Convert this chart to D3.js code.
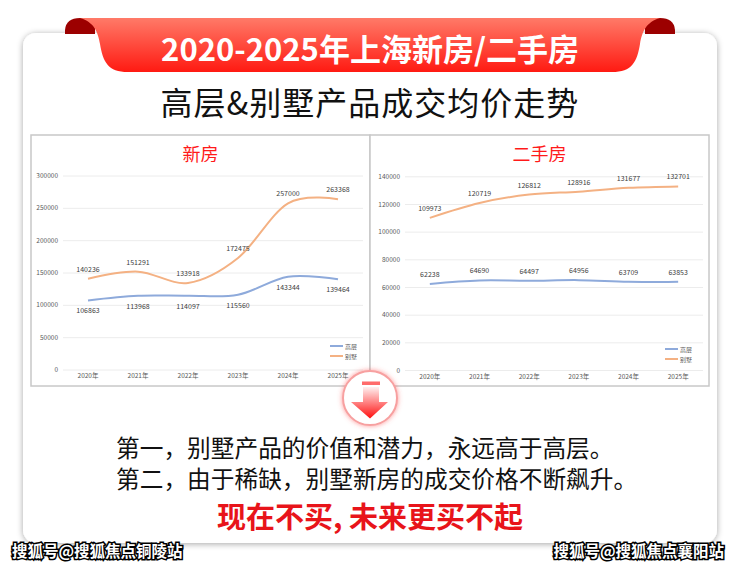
<!DOCTYPE html>
<html>
<head>
<meta charset="utf-8">
<script src="https://cdn.jsdelivr.net/npm/d3@7"></script>
<style>
  body { margin: 0; background: #fff; }
  text { font-family: "Noto Sans CJK SC", "Noto Sans", sans-serif; }
</style>
</head>
<body>
<div id="chart"></div>
<script>
const years = ['2020年', '2021年', '2022年', '2023年', '2024年', '2025年'];
const seriesNames = ['高层', '别墅'];

// 新房
const newHigh = [106863, 113968, 114097, 115560, 143344, 139464];
const newVilla = [140236, 151291, 133918, 172475, 257000, 263368];
const newTicks = [0, 50000, 100000, 150000, 200000, 250000, 300000];

// 二手房
const secHigh = [62238, 64690, 64497, 64956, 63709, 63853];
const secVilla = [109973, 120719, 126812, 128916, 131677, 132701];
const secTicks = [0, 20000, 40000, 60000, 80000, 100000, 120000, 140000];

const headline = '2020-2025年上海新房/二手房';
const subtitle = '高层&别墅产品成交均价走势';
const notes = ['第一，别墅产品的价值和潜力，永远高于高层。', '第二，由于稀缺，别墅新房的成交价格不断飙升。'];
const slogan = '现在不买, 未来更买不起';
const marks = ['搜狐号@搜狐焦点铜陵站', '搜狐号@搜狐焦点襄阳站'];

const W = 740, H = 565;
const svg = d3.select('#chart').append('svg')
  .attr('width', W)
  .attr('height', H);

const defs = svg.append('defs');

const shadow = defs.append('filter').attr('id', 'shadow')
  .attr('x', '-10%').attr('y', '-10%').attr('width', '120%').attr('height', '120%');
shadow.append('feDropShadow')
  .attr('dx', 0).attr('dy', 1).attr('stdDeviation', 3)
  .attr('flood-color', '#000').attr('flood-opacity', 0.35);

const ribbonGrad = defs.append('linearGradient').attr('id', 'ribbon')
  .attr('x1', 0).attr('y1', 0).attr('x2', 0).attr('y2', 1);
ribbonGrad.append('stop').attr('offset', '0%').attr('stop-color', '#ff7a68');
ribbonGrad.append('stop').attr('offset', '100%').attr('stop-color', '#ff1a12');

const arrowGrad = defs.append('linearGradient').attr('id', 'arrow')
  .attr('x1', 0).attr('y1', 0).attr('x2', 0).attr('y2', 1);
arrowGrad.append('stop').attr('offset', '0%').attr('stop-color', '#fff0f0');
arrowGrad.append('stop').attr('offset', '100%').attr('stop-color', '#ff1010');

const glow = defs.append('filter').attr('id', 'glow')
  .attr('x', '-30%').attr('y', '-30%').attr('width', '160%').attr('height', '160%');
glow.append('feDropShadow')
  .attr('dx', 0).attr('dy', 0).attr('stdDeviation', 2.5)
  .attr('flood-color', '#ff5050').attr('flood-opacity', 0.6);

// card
svg.append('rect')
  .attr('x', 23).attr('y', 33)
  .attr('width', 694).attr('height', 510)
  .attr('rx', 13)
  .attr('fill', '#fff')
  .attr('filter', 'url(#shadow)');

// ribbon folds
svg.append('path')
  .attr('d', 'M65,34 L65,30 Q66,18 80,18 L95,18 L95,34 Z')
  .attr('fill', '#9c0000');
svg.append('path')
  .attr('d', 'M675,34 L675,30 Q674,18 660,18 L645,18 L645,34 Z')
  .attr('fill', '#9c0000');

// ribbon body
svg.append('path')
  .attr('d', 'M80,18 L660,18 C646,22 642,32 640,44 C637,62 632,72 612,72 L128,72 C108,72 103,62 100,44 C98,32 94,22 80,18 Z')
  .attr('fill', 'url(#ribbon)');

svg.append('text')
  .attr('x', 370).attr('y', 47)
  .attr('text-anchor', 'middle')
  .attr('dominant-baseline', 'central')
  .attr('fill', '#fff')
  .attr('font-size', 31)
  .attr('font-weight', 'bold')
  .text(headline);

svg.append('text')
  .attr('x', 370).attr('y', 101)
  .attr('text-anchor', 'middle')
  .attr('dominant-baseline', 'central')
  .attr('fill', '#111')
  .attr('font-size', 32)
  .attr('letter-spacing', 1)
  .text(subtitle);

// chart panels
function panel(opts) {
  const g = svg.append('g');

  g.append('rect')
    .attr('x', opts.left).attr('y', 135)
    .attr('width', opts.right - opts.left).attr('height', 251)
    .attr('fill', '#fff')
    .attr('stroke', '#c8c8c8')
    .attr('stroke-width', 1.5);

  const x = d3.scaleBand()
    .domain(years)
    .range(opts.xRange);

  const y = d3.scaleLinear()
    .domain([0, opts.max])
    .range(opts.yRange);

  g.append('text')
    .attr('x', (opts.left + opts.right) / 2)
    .attr('y', 153)
    .attr('text-anchor', 'middle')
    .attr('dominant-baseline', 'central')
    .attr('fill', '#ff1a1a')
    .attr('font-size', 18)
    .text(opts.title);

  const yAxis = g.append('g')
    .attr('transform', `translate(${opts.xRange[0]},0)`)
    .call(d3.axisLeft(y).tickValues(opts.ticks)
      .tickSize(-(opts.xRange[1] - opts.xRange[0]))
      .tickPadding(5)
      .tickFormat(d => d));
  yAxis.select('.domain').remove();
  yAxis.selectAll('line').attr('stroke', '#ececec');
  yAxis.selectAll('text')
    .attr('fill', '#595959')
    .attr('font-size', 6.5);

  const xAxis = g.append('g')
    .attr('transform', `translate(0,${opts.yRange[0]})`)
    .call(d3.axisBottom(x).tickSize(0).tickPadding(4));
  xAxis.select('.domain').remove();
  xAxis.selectAll('text')
    .attr('fill', '#595959')
    .attr('font-size', 6.5);

  const line = d3.line()
    .x((d, i) => x(years[i]) + x.bandwidth() / 2)
    .y(d => y(d))
    .curve(d3.curveCatmullRom.alpha(0));

  const colors = ['#8eaadb', '#f4b183'];
  [opts.high, opts.villa].forEach((vals, k) => {
    g.append('path')
      .datum(vals)
      .attr('fill', 'none')
      .attr('stroke', colors[k])
      .attr('stroke-width', 2)
      .attr('d', line);

    const below = opts.highBelow && k === 0;
    g.append('g')
      .selectAll('text')
      .data(vals)
      .join('text')
      .attr('x', (d, i) => x(years[i]) + x.bandwidth() / 2)
      .attr('y', d => y(d) + (below ? 10 : -10))
      .attr('text-anchor', 'middle')
      .attr('dominant-baseline', 'central')
      .attr('fill', '#404040')
      .attr('font-size', 7)
      .text(d => d);
  });

  // legend
  const lg = g.append('g')
    .attr('transform', `translate(${opts.legend[0]},${opts.legend[1]})`);
  seriesNames.forEach((name, k) => {
    lg.append('line')
      .attr('x1', 0).attr('x2', 13)
      .attr('y1', k * 10).attr('y2', k * 10)
      .attr('stroke', colors[k])
      .attr('stroke-width', 2);
    lg.append('text')
      .attr('x', 15).attr('y', k * 10)
      .attr('dominant-baseline', 'central')
      .attr('fill', '#595959')
      .attr('font-size', 6)
      .text(name);
  });
}

panel({
  title: '新房', left: 31, right: 370,
  xRange: [63, 363], yRange: [369.5, 175.5],
  max: 300000, ticks: newTicks,
  high: newHigh, villa: newVilla, highBelow: true,
  legend: [330, 346]
});

panel({
  title: '二手房', left: 370, right: 709,
  xRange: [405, 703], yRange: [370, 176.3],
  max: 140000, ticks: secTicks,
  high: secHigh, villa: secVilla, highBelow: false,
  legend: [665, 349]
});

// arrow badge
svg.append('circle')
  .attr('cx', 370).attr('cy', 398).attr('r', 27)
  .attr('fill', '#fff')
  .attr('stroke', '#f7a0a0')
  .attr('stroke-width', 2)
  .attr('filter', 'url(#glow)');
svg.append('rect')
  .attr('x', 362).attr('y', 381.5).attr('width', 18).attr('height', 3.5)
  .attr('fill', '#ff6b6b');
svg.append('path')
  .attr('d', 'M363,387 L379,387 L379,402 L388,402 L370,418.5 L351,402 L363,402 Z')
  .attr('fill', 'url(#arrow)');

// notes
svg.append('g')
  .selectAll('text')
  .data(notes)
  .join('text')
  .attr('x', 116)
  .attr('y', (d, i) => 447 + i * 31)
  .attr('dominant-baseline', 'central')
  .attr('fill', '#111')
  .attr('font-size', 23.7)
  .text(d => d);

svg.append('text')
  .attr('x', 370).attr('y', 515)
  .attr('text-anchor', 'middle')
  .attr('dominant-baseline', 'central')
  .attr('fill', '#e8141a')
  .attr('font-size', 29)
  .attr('font-weight', 'bold')
  .text(slogan);

// watermarks
svg.append('g')
  .selectAll('text')
  .data(marks)
  .join('text')
  .attr('x', (d, i) => i === 0 ? 12 : 724)
  .attr('y', 550)
  .attr('text-anchor', (d, i) => i === 0 ? 'start' : 'end')
  .attr('dominant-baseline', 'central')
  .attr('font-size', 15.5)
  .attr('font-weight', 'bold')
  .attr('fill', '#fff')
  .attr('stroke', '#000')
  .attr('stroke-width', 3)
  .attr('paint-order', 'stroke')
  .text(d => d);
</script>
</body>
</html>
